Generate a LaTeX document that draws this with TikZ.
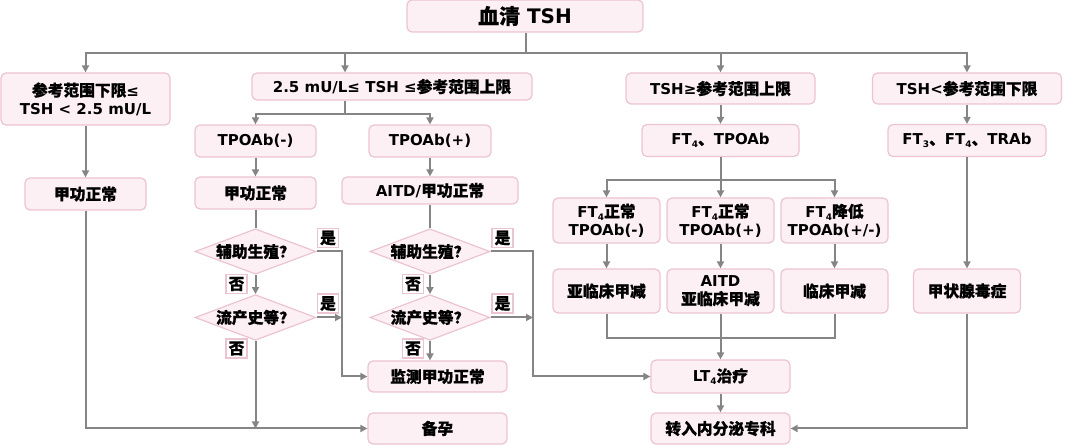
\documentclass[tikz,border=0pt]{standalone}
\usepackage{fontspec}
\setmainfont{DejaVu Sans}
\newfontfamily\cj{Noto Sans CJK SC}[Scale=1.05,BoldFeatures={FakeBold=0.6}]
\usetikzlibrary{shapes.geometric,arrows.meta}
\definecolor{fillc}{HTML}{FDF0F5}
\definecolor{bordc}{HTML}{EBC3D2}
\definecolor{linec}{HTML}{858585}
\newcommand\zh[1]{{\cj #1}}
\newcommand\sub[1]{\raisebox{-0.35ex}{\fontsize{9}{9}\selectfont #1}}
\begin{document}
\begin{tikzpicture}[x=1pt,y=-1pt,
 box/.style={draw=bordc,fill=fillc,line width=1.2pt,rounded corners=5pt,inner sep=0pt,align=center,font=\bfseries\fontsize{15}{18}\selectfont},
 dia/.style={diamond,draw=bordc,fill=fillc,line width=1.2pt,inner sep=0pt,aspect=2.6,minimum width=121pt,minimum height=45pt,font=\bfseries\fontsize{15}{18}\selectfont},
 lab/.style={draw=bordc,fill=white,line width=1.2pt,inner sep=0pt,minimum width=21pt,minimum height=19pt,font=\bfseries\fontsize{15}{18}\selectfont},
 ln/.style={draw=linec,line width=2pt},
 arr/.style={ln,-{Triangle[length=7pt,width=7pt]}}]
\useasboundingbox (0,0) rectangle (1080,446);
% top
\node[box,minimum width=236pt,minimum height=32pt,font=\bfseries\fontsize{20}{24}\selectfont] (T) at (525,16) {\zh{血清} TSH};
% row 1
\node[box,minimum width=169pt,minimum height=52pt] (A) at (85.5,99) {\zh{参考范围下限}≤\\TSH < 2.5 mU/L};
\node[box,minimum width=280pt,minimum height=27pt] (B) at (392,86.5) {2.5 mU/L≤ TSH ≤\zh{参考范围上限}};
\node[box,minimum width=189pt,minimum height=31pt] (C) at (720.5,88.5) {TSH≥\zh{参考范围上限}};
\node[box,minimum width=189pt,minimum height=31pt] (D) at (967,88.5) {TSH<\zh{参考范围下限}};
% row 2
\node[box,minimum width=121pt,minimum height=32pt] (E) at (255.5,141) {TPOAb(-)};
\node[box,minimum width=122pt,minimum height=32pt] (F) at (430,141) {TPOAb(+)};
\node[box,minimum width=157pt,minimum height=32pt] (G) at (720.5,140.5) {FT\sub{4}\zh{、}TPOAb};
\node[box,minimum width=158pt,minimum height=32pt] (H) at (967,140.5) {FT\sub{3}\zh{、}FT\sub{4}\zh{、}TRAb};
% row 3
\node[box,minimum width=121pt,minimum height=32pt] (I) at (85.5,194) {\zh{甲功正常}};
\node[box,minimum width=121pt,minimum height=32pt] (J) at (255.5,193) {\zh{甲功正常}};
\node[box,minimum width=176pt,minimum height=27pt] (K) at (430,190.5) {AITD/\zh{甲功正常}};
\node[box,minimum width=107pt,minimum height=45pt] (L1) at (606.5,220.5) {FT\sub{4}\zh{正常}\\TPOAb(-)};
\node[box,minimum width=107pt,minimum height=45pt] (L2) at (720.5,220.5) {FT\sub{4}\zh{正常}\\TPOAb(+)};
\node[box,minimum width=107pt,minimum height=45pt] (L3) at (834.5,220.5) {FT\sub{4}\zh{降低}\\TPOAb(+/-)};
% row 4
\node[box,minimum width=107pt,minimum height=44pt] (M1) at (606.5,291) {\zh{亚临床甲减}};
\node[box,minimum width=107pt,minimum height=44pt] (M2) at (720.5,291) {AITD\\\zh{亚临床甲减}};
\node[box,minimum width=107pt,minimum height=44pt] (M3) at (834.5,291) {\zh{临床甲减}};
\node[box,minimum width=107pt,minimum height=44pt] (M4) at (967,291) {\zh{甲状腺毒症}};
% diamonds
\node[dia] (D1) at (255.5,251.5) {\zh{辅助生殖？}};
\node[dia] (D2) at (255.5,317.5) {\zh{流产史等？}};
\node[dia,minimum width=120pt] (D3) at (430,251.5) {\zh{辅助生殖？}};
\node[dia,minimum width=120pt] (D4) at (430,317.5) {\zh{流产史等？}};
% bottom boxes
\node[box,minimum width=139pt,minimum height=31pt] (Mon) at (437.5,376.5) {\zh{监测甲功正常}};
\node[box,minimum width=139pt,minimum height=31pt] (Bei) at (437.5,428.5) {\zh{备孕}};
\node[box,minimum width=139pt,minimum height=33pt] (LT) at (720.5,376.5) {LT\sub{4}\zh{治疗}};
\node[box,minimum width=139pt,minimum height=31pt] (Ref) at (720.5,428.5) {\zh{转入内分泌专科}};
% labels
\node[lab] (y1) at (328,238) {\zh{是}};
\node[lab] (y2) at (328,303.5) {\zh{是}};
\node[lab] (n1) at (236.5,284) {\zh{否}};
\node[lab] (n2) at (236.5,348.5) {\zh{否}};
\node[lab] (y3) at (502.5,238) {\zh{是}};
\node[lab] (y4) at (502.5,303.5) {\zh{是}};
\node[lab] (n3) at (413,284) {\zh{否}};
\node[lab] (n4) at (413,348.5) {\zh{否}};
% coordinates
\coordinate (hb) at (526,53);
\coordinate (hbB) at (345,53);
\coordinate (b2) at (345,114);
\coordinate (g2) at (720.5,180);
\coordinate (m2) at (720.5,338);
\coordinate (v1) at (342,251.5);
\coordinate (v2) at (533,251.5);
% connectors
\draw[ln] (T.south -| hb) -- (hb);
\draw[arr] (hb) -| (A.north);
\draw[arr] (hb) -| (D.north);
\draw[arr] (hb) -| (C.north);
\draw[arr] (hbB) -- (hbB |- B.north);
\draw[ln] (B.south -| b2) -- (b2);
\draw[arr] (b2) -| (E.north);
\draw[arr] (b2) -| (F.north);
\draw[arr] (A) -- (I);
\draw[arr] (E) -- (J);
\draw[arr] (F) -- (K);
\draw[arr] (C) -- (G);
\draw[arr] (D) -- (H);
\draw[ln] (G.south) -- (g2);
\draw[arr] (g2) -| (L1.north);
\draw[arr] (g2) -| (L3.north);
\draw[arr] (g2) -- (L2.north);
\draw[arr] (L1) -- (M1);
\draw[arr] (L2) -- (M2);
\draw[arr] (L3) -- (M3);
\draw[ln] (M1.south) |- (m2) -| (M3.south);
\draw[arr] (M2) -- (LT);
\draw[arr] (LT) -- (Ref);
\draw[arr] (H.south) -- (M4.north);
\draw[arr] (M4.south) |- (Ref.east);
% left decision tree
\draw[ln] (J) -- (D1);
\draw[ln] (K) -- (D3);
\draw[arr] (D1) -- (D2);
\draw[arr] (D3) -- (D4);
\draw[arr] (I.south) |- (Bei.west);
\draw[arr] (D2.south) -- (D2.south |- Bei.west);
\draw[arr] (D1.east) -- (v1) |- (Mon.west);
\draw[arr] (D2.east) -- (D2.east -| v1);
\draw[arr] (D3.east) -- (v2) |- (LT.west);
\draw[arr] (D4.east) -- (D4.east -| v2);
\draw[arr] (D4.south) -- (D4.south |- Mon.north);
\end{tikzpicture}
\end{document}
